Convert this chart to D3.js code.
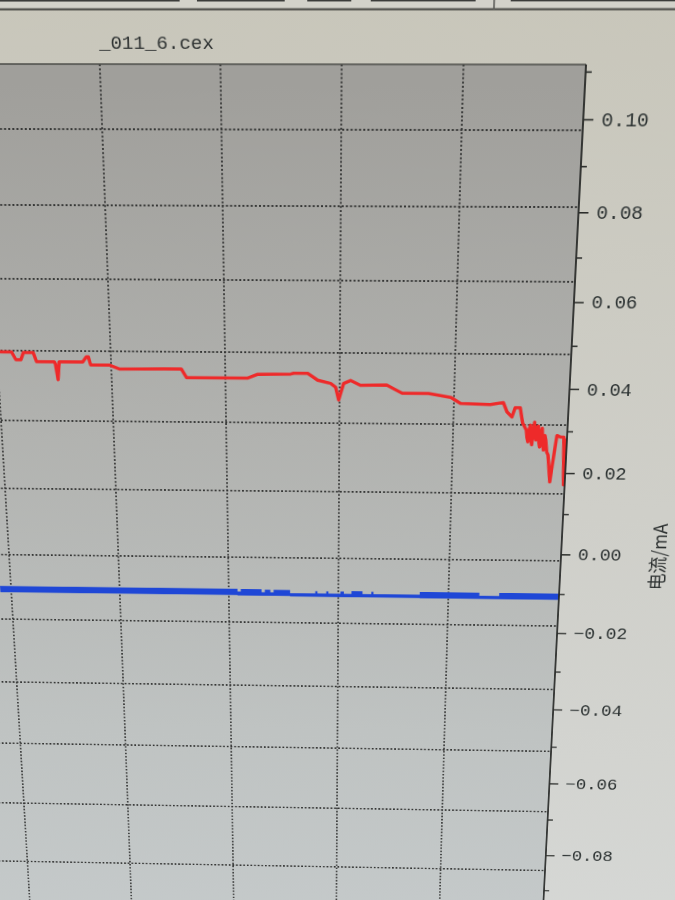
<!DOCTYPE html>
<html lang="zh">
<head>
<meta charset="utf-8">
<script src="https://d3js.org/d3.v7.min.js"></script>
<style>
  html, body { margin: 0; padding: 0; width: 675px; height: 900px; overflow: hidden; background: #cfcfc8; }
  #chart { position: absolute; left: 0; top: 0; transform-origin: 0 0 0; }
</style>
</head>
<body>
<div id="chart"></div>
<script>
// red trace: current (mA) against time
var redT = [-10, 6, 12.9, 16.4, 20.7, 23.3, 31.9, 34.5, 50, 51, 52.7, 54.4, 75.1, 78.5, 80.2, 82, 98.4, 107, 161.5, 165.9,
    219.7, 228.5, 257.3, 259.9, 272.1, 280.8, 292.1, 296.5, 299.2, 303.5, 309.5, 318.1, 341.1, 354.7, 377.7, 397.3, 405.8,
    431.8, 443.1, 446.6, 451, 453.6, 458, 460.6, 464.1, 464.9, 465.8, 466.7, 467.6, 468.4, 469.3, 470.2, 471.1, 471.9,
    472.8, 473.7, 474.6, 475.4, 476.3, 477.1, 478, 478.9, 479.8, 480.6, 481.5, 482.8, 484.1, 486.7, 488.5, 491.1, 494.6,
    497.2, 498.9, 499.8];
var redI = [0.0478, 0.0477, 0.0477, 0.0459, 0.0459, 0.0476, 0.0476, 0.0455, 0.0455, 0.0450, 0.0413, 0.0455, 0.0455, 0.0467, 0.0467, 0.0448, 0.0448, 0.0439, 0.0440, 0.0420,
    0.0420, 0.0429, 0.0430, 0.0432, 0.0432, 0.0416, 0.0409, 0.0400, 0.0370, 0.0409, 0.0416, 0.0405, 0.0406, 0.0387, 0.0387, 0.0378, 0.0364,
    0.0362, 0.0367, 0.0345, 0.0333, 0.0355, 0.0355, 0.0319, 0.0302, 0.0285, 0.0274, 0.0305, 0.0314, 0.0280, 0.0267, 0.0300, 0.0321, 0.0290,
    0.0279, 0.0310, 0.0312, 0.0275, 0.0262, 0.0295, 0.0307, 0.0270, 0.0255, 0.0290, 0.0279, 0.0250, 0.0243, 0.0178, 0.0226, 0.0290, 0.0286,
    0.0286, 0.0171, 0.0283];

// blue trace: noisy current, kept as upper / lower envelope
var blueT   = [-10, 208, 211, 230, 233, 238, 241, 256, 279, 281, 289, 291, 302, 305, 312, 322, 330, 332, 374, 428, 446, 500];
var blueTop = [-0.0096, -0.0103, -0.0097, -0.0104, -0.0098, -0.0104, -0.0098, -0.0106, -0.0100, -0.0106, -0.0100,
    -0.0106, -0.0100, -0.0106, -0.0099, -0.0106, -0.0100, -0.0106, -0.0099, -0.0107, -0.0099, -0.0099];
var blueBot = [-0.0112, -0.0113, -0.0113, -0.0113, -0.0113, -0.0113, -0.0113, -0.0114, -0.0114, -0.0114, -0.0114,
    -0.0114, -0.0114, -0.0114, -0.0114, -0.0114, -0.0114, -0.0114, -0.0115, -0.0115, -0.0115, -0.0115];

var yTicks = [0.10, 0.08, 0.06, 0.04, 0.02, 0.00, -0.02, -0.04, -0.06, -0.08];
var yMinor = [0.11, 0.09, 0.07, 0.05, 0.03, 0.01, -0.01, -0.03, -0.05, -0.07, -0.09];
var xGrid = [-100, 0, 100, 200, 300, 400];
var gridRows = [0, 1, 2, 3, 4, 5, 6, 7, 8, 9, 10, 11, 12];   // ticks of the (hidden) left axis
var title = "_011_6.cex";
var yLabel = "电流/mA";
var toolButtons = [[-30, 181], [198, 284], [306, 349], [368, 470], [504, 760]];

var OX = 100, OY = 20;
var W = 880, H = 1120;

var x = d3.scaleLinear().domain([0, 500]).range([-20, 580]);
var y = d3.scaleLinear().domain([0.10, -0.08]).range([118, 966.5]);
var rowY = d3.scaleLinear().domain([0, 1]).range([129, 207]);

var plotTop = 64, plotRight = x(500), plotLeft = -OX, plotBottom = H - OY;

var svg = d3.select('#chart')
    .style('width', W + 'px')
    .style('height', H + 'px')
    .append('svg')
    .attr('width', W)
    .attr('height', H);

var defs = svg.append('defs');
var bgGrad = defs.append('linearGradient').attr('id', 'bgGrad')
    .attr('gradientUnits', 'userSpaceOnUse').attr('x1', 0).attr('y1', 0).attr('x2', 0).attr('y2', H);
bgGrad.append('stop').attr('offset', 0).attr('stop-color', '#c8c6ba');
bgGrad.append('stop').attr('offset', 0.5).attr('stop-color', '#cfcfc9');
bgGrad.append('stop').attr('offset', 1).attr('stop-color', '#d6d8d6');

var plotGrad = defs.append('linearGradient').attr('id', 'plotGrad')
    .attr('gradientUnits', 'userSpaceOnUse').attr('x1', 0).attr('y1', plotTop + OY).attr('x2', 0).attr('y2', H);
plotGrad.append('stop').attr('offset', 0).attr('stop-color', '#a09f9b');
plotGrad.append('stop').attr('offset', 0.35).attr('stop-color', '#b1b2af');
plotGrad.append('stop').attr('offset', 0.7).attr('stop-color', '#bfc3c2');
plotGrad.append('stop').attr('offset', 1).attr('stop-color', '#c6cbcc');

defs.append('clipPath').attr('id', 'plotClip')
    .append('rect')
    .attr('x', plotLeft).attr('y', plotTop)
    .attr('width', plotRight - plotLeft).attr('height', plotBottom - plotTop);

svg.append('rect').attr('width', W).attr('height', H).attr('fill', 'url(#bgGrad)');

var g = svg.append('g').attr('transform', 'translate(' + OX + ',' + OY + ')');

// window toolbar strip
g.append('rect').attr('x', -OX).attr('y', -OY).attr('width', W).attr('height', OY + 10).attr('fill', '#d3d2ca');
g.selectAll('.btn').data(toolButtons).enter().append('rect')
    .attr('class', 'btn')
    .attr('x', function(d) { return d[0] })
    .attr('y', -OY)
    .attr('width', function(d) { return d[1] - d[0] })
    .attr('height', OY + 3)
    .attr('fill', '#3b3c3a');
g.append('line').attr('x1', -OX).attr('x2', W).attr('y1', 10.5).attr('y2', 10.5)
    .attr('stroke', '#4a4a46').attr('stroke-width', 2);
g.append('line').attr('x1', 488).attr('x2', 488).attr('y1', -OY).attr('y2', 11)
    .attr('stroke', '#5a5a56').attr('stroke-width', 1.5);

g.append('text')
    .attr('x', 100).attr('y', 49)
    .attr('font-family', 'Liberation Mono, DejaVu Sans Mono, monospace')
    .attr('font-size', 19)
    .attr('fill', '#2e3232')
    .text(title);

// plot area
g.append('rect')
    .attr('x', plotLeft).attr('y', plotTop)
    .attr('width', plotRight - plotLeft).attr('height', plotBottom - plotTop)
    .attr('fill', 'url(#plotGrad)');

// dotted grid
var grid = g.append('g').attr('clip-path', 'url(#plotClip)');
grid.selectAll('.hgrid').data(gridRows).enter().append('line')
    .attr('class', 'hgrid')
    .attr('x1', plotLeft).attr('x2', plotRight)
    .attr('y1', function(d) { return rowY(d) })
    .attr('y2', function(d) { return rowY(d) })
    .attr('stroke', '#353635').attr('stroke-width', 1.8).attr('stroke-dasharray', '2,2.2');
grid.selectAll('.vgrid').data(xGrid).enter().append('line')
    .attr('class', 'vgrid')
    .attr('x1', function(d) { return x(d) })
    .attr('x2', function(d) { return x(d) })
    .attr('y1', plotTop).attr('y2', plotBottom)
    .attr('stroke', '#353635').attr('stroke-width', 1.8).attr('stroke-dasharray', '2,2.2');

// traces
var traces = g.append('g').attr('clip-path', 'url(#plotClip)');
var blueData = blueT.map(function(t, i) { return {t: t, hi: blueTop[i], lo: blueBot[i]} });
traces.append('path')
    .datum(blueData)
    .attr('fill', '#1f47d6')
    .attr('d', d3.area()
        .curve(d3.curveStepAfter)
        .x(function(d) { return x(d.t) })
        .y0(function(d) { return y(d.lo) })
        .y1(function(d) { return y(d.hi) }));

var redData = redT.map(function(t, i) { return {t: t, v: redI[i]} });
traces.append('path')
    .datum(redData)
    .attr('fill', 'none')
    .attr('stroke', '#ee2a2a')
    .attr('stroke-width', 3.5)
    .attr('stroke-linejoin', 'round')
    .attr('d', d3.line()
        .x(function(d) { return x(d.t) })
        .y(function(d) { return y(d.v) }));

// frame
g.append('line').attr('x1', plotLeft).attr('x2', plotRight).attr('y1', plotTop).attr('y2', plotTop)
    .attr('stroke', '#4b4c49').attr('stroke-width', 1.6);
g.append('line').attr('x1', plotRight).attr('x2', plotRight).attr('y1', plotTop).attr('y2', plotBottom)
    .attr('stroke', '#262826').attr('stroke-width', 1.8);

// right axis
var fmt = d3.format('.2f');
var yAxis = g.append('g')
    .attr('transform', 'translate(' + plotRight + ',0)')
    .call(d3.axisRight(y).tickValues(yTicks).tickSize(10).tickPadding(8).tickFormat(fmt));
var yAxisMinor = g.append('g')
    .attr('transform', 'translate(' + plotRight + ',0)')
    .call(d3.axisRight(y).tickValues(yMinor).tickSize(6).tickFormat(''));
[yAxis, yAxisMinor].forEach(function(a) {
    a.select('.domain').remove();
    a.selectAll('line').attr('stroke', '#2a2c2a').attr('stroke-width', 1.6);
});
yAxis.selectAll('text')
    .attr('font-family', 'Liberation Mono, DejaVu Sans Mono, monospace')
    .attr('font-size', 19.5)
    .attr('fill', '#2c3232');

g.append('text')
    .attr('transform', 'translate(' + (plotRight + 103) + ',' + (y(0) + 2) + ') rotate(-90)')
    .attr('text-anchor', 'middle')
    .attr('dominant-baseline', 'central')
    .attr('font-family', 'Noto Sans CJK SC, sans-serif')
    .attr('font-size', 20)
    .attr('fill', '#2c3030')
    .text(yLabel);

// camera view: the chart was photographed at an angle, map the flat chart
// onto the photo with a projective transform fitted on four grid crossings
var src = [[x(100) + OX, rowY(0) + OY], [x(500) + OX, rowY(0) + OY], [x(100) + OX, rowY(10) + OY], [x(500) + OX, rowY(10) + OY]];
var dst = [[102.2, 129.2], [582.7, 130.3], [127.8, 804.8], [548, 811.7]];

function solve(A, b) {
    var n = b.length;
    for (var i = 0; i < n; i++) {
        var p = i;
        for (var r = i + 1; r < n; r++) if (Math.abs(A[r][i]) > Math.abs(A[p][i])) p = r;
        var tmp = A[i]; A[i] = A[p]; A[p] = tmp;
        var tb = b[i]; b[i] = b[p]; b[p] = tb;
        for (var r = i + 1; r < n; r++) {
            var f = A[r][i] / A[i][i];
            for (var c = i; c < n; c++) A[r][c] -= f * A[i][c];
            b[r] -= f * b[i];
        }
    }
    var out = new Array(n);
    for (var i = n - 1; i >= 0; i--) {
        var s = b[i];
        for (var c = i + 1; c < n; c++) s -= A[i][c] * out[c];
        out[i] = s / A[i][i];
    }
    return out;
}

var A = [], b = [];
src.forEach(function(s, i) {
    var u = s[0], v = s[1], X = dst[i][0], Y = dst[i][1];
    A.push([u, v, 1, 0, 0, 0, -u * X, -v * X]); b.push(X);
    A.push([0, 0, 0, u, v, 1, -u * Y, -v * Y]); b.push(Y);
});
var h = solve(A, b);
d3.select('#chart').style('transform',
    'matrix3d(' + [h[0], h[3], 0, h[6], h[1], h[4], 0, h[7], 0, 0, 1, 0, h[2], h[5], 0, 1].join(',') + ')');
</script>
</body>
</html>
